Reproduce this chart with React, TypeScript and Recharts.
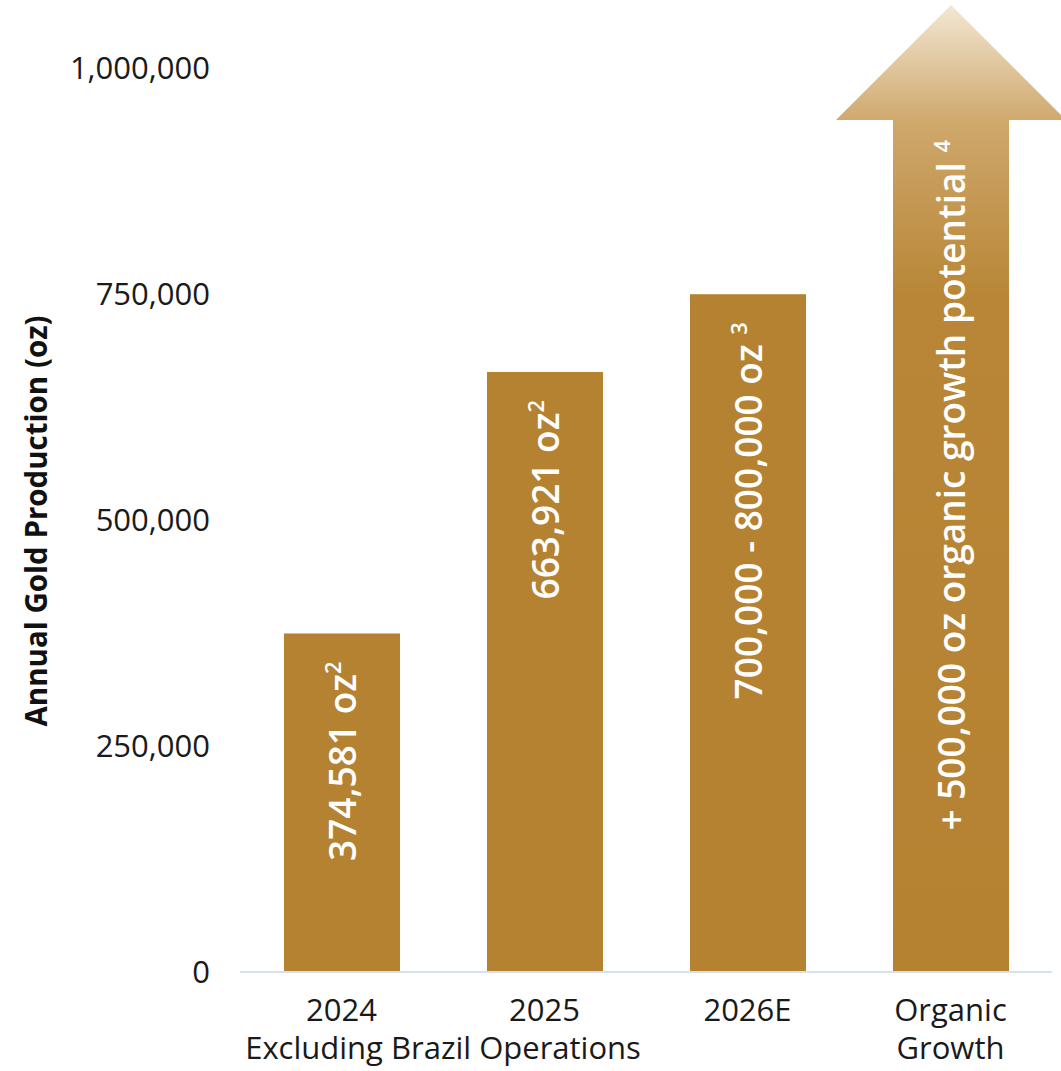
import { BarChart, Bar, XAxis, YAxis, LabelList, Label } from 'recharts';

const categories = ['2024', '2025', '2026E', 'Organic'];
const subLines = ['Excluding Brazil Operations', '', '', 'Growth'];
const production = [374581, 663921, 750000, 1070000];
const barTexts = ['374,581 oz', '663,921 oz', '700,000 - 800,000 oz ', '+ 500,000 oz organic growth potential '];
const barNotes = ['2', '2', '3', '4'];
const yTicks = [0, 250000, 500000, 750000, 1000000];

const data = categories.map((c, i) => ({
  name: c,
  sub: subLines[i],
  value: production[i],
  text: barTexts[i],
  note: barNotes[i],
}));

const GOLD = '#B58232';
const FONT = '"Open Sans", sans-serif';
const HEAD = 115;

const fmt = (v: number) => v.toLocaleString('en-US');

function GoldShape(props: any) {
  const { x, y, width, height, index } = props;
  if (index !== 3) {
    return <rect x={x} y={y} width={width} height={height} fill={GOLD} />;
  }
  const cx = x + width / 2;
  const bottom = y + height;
  const d = `M${cx},${y} L${cx + HEAD},${y + HEAD} L${x + width},${y + HEAD} L${x + width},${bottom} L${x},${bottom} L${x},${y + HEAD} L${cx - HEAD},${y + HEAD} Z`;
  return <path d={d} fill="url(#arrowGrad)" />;
}

function BarText(props: any) {
  const { x, y, width, index } = props;
  const row = data[index];
  const cx = x + width / 2 + 14;
  const top = index === 3 ? y + HEAD + 20 : y + 28;
  return (
    <text
      x={cx}
      y={top}
      transform={`rotate(-90 ${cx} ${top})`}
      textAnchor="end"
      fill="#ffffff"
      fontFamily={FONT}
      fontWeight={600}
      fontSize={37}
    >
      {row.text}
      <tspan fontSize={22} dy={-15}>{row.note}</tspan>
    </text>
  );
}

function XTick(props: any) {
  const { x, y, payload, index } = props;
  const row = data[index];
  const band = 203;
  const subX = index === 0 ? x + band / 2 : x;
  return (
    <g>
      <text x={x} y={y + 41} textAnchor="middle" fill="#1a1a1a" fontFamily={FONT} fontSize={31}>
        {payload.value}
      </text>
      {row && row.sub ? (
        <text x={subX} y={y + 79} textAnchor="middle" fill="#1a1a1a" fontFamily={FONT} fontSize={31}>
          {row.sub}
        </text>
      ) : null}
    </g>
  );
}

export default function App() {
  return (
    <div style={{ position: 'absolute', left: 0, top: 0, width: 1061, height: 1071, background: '#fff' }}>
      <BarChart
        width={1061}
        height={1071}
        data={data}
        margin={{ top: 5, right: 9, left: 0, bottom: 0 }}
        style={{ overflow: 'visible' }}
      >
        <defs>
          <linearGradient id="arrowGrad" x1="0" y1="0" x2="0" y2="1">
            <stop offset="0" stopColor="#F3E7D3" />
            <stop offset="0.12" stopColor="#CFA86C" />
            <stop offset="0.3" stopColor="#B88636" />
            <stop offset="1" stopColor={GOLD} />
          </linearGradient>
        </defs>
        <XAxis
          dataKey="name"
          height={99}
          tickLine={false}
          axisLine={{ stroke: '#D5E1EE', strokeWidth: 2 }}
          tick={<XTick />}
          interval={0}
        />
        <YAxis
          width={240}
          domain={[0, 1070000]}
          ticks={yTicks}
          tickFormatter={fmt}
          axisLine={false}
          tickLine={false}
          tickSize={0}
          tickMargin={30}
          tick={{ fill: '#1a1a1a', fontFamily: FONT, fontSize: 31 }}
        >
          <Label
            content={() => (
              <text
                x={47}
                y={521}
                transform="rotate(-90 47 521)"
                textAnchor="middle"
                fill="#111"
                fontFamily={FONT}
                fontWeight={700}
                fontSize={29.5}
              >
                Annual Gold Production (oz)
              </text>
            )}
          />
        </YAxis>
        <Bar dataKey="value" barSize={116} shape={<GoldShape />} isAnimationActive={false}>
          <LabelList dataKey="text" content={<BarText />} />
        </Bar>
      </BarChart>
    </div>
  );
}
